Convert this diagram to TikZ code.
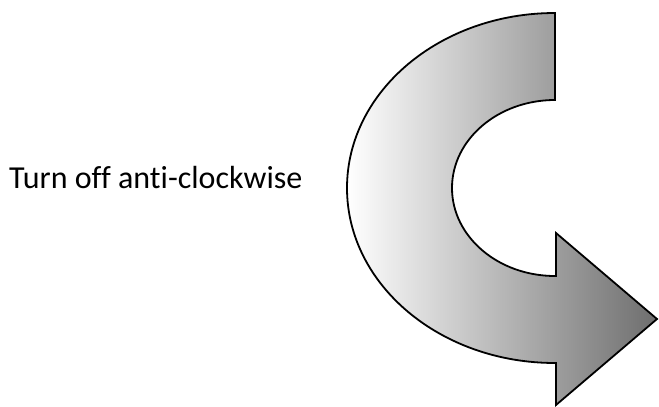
\documentclass[tikz,border=0pt]{standalone}
\usepackage{fontspec}
\setmainfont{Carlito}[Ligatures=NoCommon]
\definecolor{arrowdark}{RGB}{110,110,110}
\begin{document}
\begin{tikzpicture}[x=1pt,y=1pt,
  bigarrow/.style={draw=black, line width=1.8pt, line join=miter, left color=white, right color=arrowdark},
  label/.style={font=\fontsize{32}{38}\selectfont, inner sep=0pt, anchor=base west}]
\useasboundingbox (0,0) rectangle (659,-407);
\path[bigarrow] (555,-13)
  arc[start angle=90, end angle=270, x radius=208, y radius=175]
  -- (556,-363) -- (556,-405) -- (657,-319) -- (556,-233) -- (556,-276) -- (555,-276)
  arc[start angle=270, end angle=90, x radius=103, y radius=88]
  -- cycle;
\node[label] (txt) at (9,-188) {Turn off anti-clockwise};
\end{tikzpicture}
\end{document}
